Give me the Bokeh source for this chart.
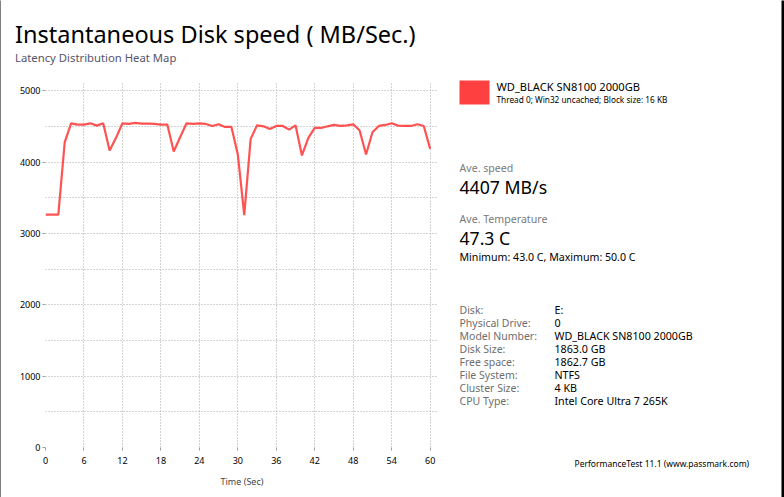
from bokeh.plotting import figure
from bokeh.layouts import column, row
from bokeh.models import Range1d, FixedTicker, Label, BoxAnnotation
from bokeh.embed import file_html
from bokeh.resources import INLINE

# ---- data ----
time_sec = list(range(61))
speed_mbs = [3265, 3265, 3265, 4279, 4544, 4526, 4526, 4544, 4512, 4544,
             4163, 4340, 4544, 4535, 4549, 4540, 4540, 4535, 4526, 4526,
             4149, 4349, 4544, 4535, 4544, 4535, 4507, 4530, 4493, 4493,
             4107, 3256, 4326, 4516, 4502, 4465, 4507, 4507, 4456, 4516,
             4093, 4340, 4479, 4479, 4502, 4521, 4507, 4516, 4530, 4442,
             4107, 4419, 4507, 4521, 4544, 4512, 4507, 4507, 4530, 4507,
             4186]
x_ticks = list(range(0, 61, 6))
y_ticks = [0, 1000, 2000, 3000, 4000, 5000]
y_grid = list(range(0, 5001, 500))

title_text = "Instantaneous Disk speed ( MB/Sec.)"
subtitle_text = "Latency Distribution Heat Map"
series_name = "WD_BLACK SN8100 2000GB"
series_desc = "Thread 0; Win32 uncached; Block size: 16 KB"
ave_speed = "4407 MB/s"
ave_temp = "47.3 C"
temp_range = "Minimum: 43.0 C, Maximum: 50.0 C"
info_labels = ["Disk:", "Physical Drive:", "Model Number:", "Disk Size:",
               "Free space:", "File System:", "Cluster Size:", "CPU Type:"]
info_values = ["E:", "0", "WD_BLACK SN8100 2000GB", "1863.0 GB",
               "1862.7 GB", "NTFS", "4 KB", "Intel Core Ultra 7 265K"]
footer = "PerformanceTest 11.1 (www.passmark.com)"

FONT = "Noto Sans"
RED = "#ff4040"

TOTAL_W, TOTAL_H = 784, 497
EDGE_L, EDGE_R = 1, 3
CONTENT_X1 = TOTAL_W - EDGE_R
HEAD_H = 75
CHART_X1 = 445
BODY_H = TOTAL_H - HEAD_H
CHART_W = CHART_X1 - EDGE_L
SIDE_W = CONTENT_X1 - CHART_X1


def blank(width, height, x0, x1, y0, y1, fill="white"):
    f = figure(width=width, height=height, output_backend="svg",
               toolbar_location=None, x_range=Range1d(x0, x1),
               y_range=Range1d(y1, y0), min_border=0)
    f.axis.visible = False
    f.grid.visible = False
    f.outline_line_color = None
    f.background_fill_color = fill
    f.border_fill_color = fill
    f.frame_align = False
    return f


def txt(f, px, py, text, size, color="black"):
    # py is the wanted baseline; shift for the renderer's baseline offset
    f.add_layout(Label(x=px, y=py - 0.4 * size, text=text, text_font=FONT,
                       text_font_size=f"{size}px", text_color=color,
                       text_align="left", text_baseline="alphabetic"))


# ---- window edges ----
edge_l = blank(EDGE_L, TOTAL_H, 0, 1, 0, 1, fill="black")
edge_r = blank(EDGE_R, TOTAL_H, 0, 1, 0, 1, fill="black")

# ---- header (page coordinates) ----
head = blank(CONTENT_X1 - EDGE_L, HEAD_H, EDGE_L, CONTENT_X1, 0, HEAD_H)
txt(head, 14.5, 43, title_text, 23.5)
txt(head, 14.5, 62, subtitle_text, 11.3, "#55556b")

# ---- chart ----
p = figure(width=CHART_W, height=BODY_H, output_backend="svg",
           toolbar_location=None,
           x_range=Range1d(0, 61.3), y_range=Range1d(0, 5130),
           min_border_left=45 - EDGE_L, min_border_right=CHART_X1 - 438,
           min_border_top=6, min_border_bottom=BODY_H - 6 - 366)
p.outline_line_color = None
p.background_fill_color = "white"
p.border_fill_color = "white"

p.line(time_sec, speed_mbs, line_color=RED, line_width=2.2, line_alpha=0.9)

p.xaxis.ticker = FixedTicker(ticks=x_ticks)
p.yaxis.ticker = FixedTicker(ticks=y_ticks)
for ax in (p.xaxis[0], p.yaxis[0]):
    ax.axis_line_color = None
    ax.major_tick_line_color = "#a0a0a0"
    ax.major_tick_in = 0
    ax.major_tick_out = 3
    ax.minor_tick_line_color = None
    ax.major_label_text_font = FONT
    ax.major_label_text_font_size = "9px"
    ax.major_label_text_color = "black"
p.xaxis.major_label_standoff = 6
p.yaxis.major_label_standoff = 2
p.xaxis.axis_label = "Time (Sec)"
p.xaxis.axis_label_text_font = FONT
p.xaxis.axis_label_text_font_size = "9px"
p.xaxis.axis_label_text_font_style = "normal"
p.xaxis.axis_label_standoff = 8

p.xgrid.ticker = FixedTicker(ticks=x_ticks)
p.ygrid.ticker = FixedTicker(ticks=y_grid)
for g in (p.xgrid[0], p.ygrid[0]):
    g.grid_line_color = "#a8a8a8"
    g.grid_line_dash = "1 2"
    g.grid_line_width = 1

# ---- side panel (page coordinates) ----
side = blank(SIDE_W, BODY_H, CHART_X1, CONTENT_X1, HEAD_H, TOTAL_H)
side.add_layout(BoxAnnotation(left=459, right=489, top=80, bottom=104,
                              fill_color=RED, fill_alpha=1, line_color=None))
txt(side, 496, 90, series_name, 11.1)
txt(side, 496, 102.7, series_desc, 8.25)

txt(side, 459, 171.7, "Ave. speed", 10.6, "#7a7a7a")
txt(side, 459, 194, ave_speed, 17.7)
txt(side, 459, 222.7, "Ave. Temperature", 10.6, "#7a7a7a")
txt(side, 459, 245, ave_temp, 17.6)
txt(side, 459, 260.7, temp_range, 10.6)

for i, (lab, val) in enumerate(zip(info_labels, info_values)):
    yy = 313.3 + i * 13.0
    txt(side, 459, yy, lab, 10.5, "#6e6e6e")
    txt(side, 554, yy, val, 10.7)

txt(side, 574, 466.7, footer, 8.5)

content = column(head, row(p, side, spacing=0), spacing=0)
layout = row(edge_l, content, edge_r, spacing=0)
open("out.html", "w").write(file_html(layout, INLINE))
